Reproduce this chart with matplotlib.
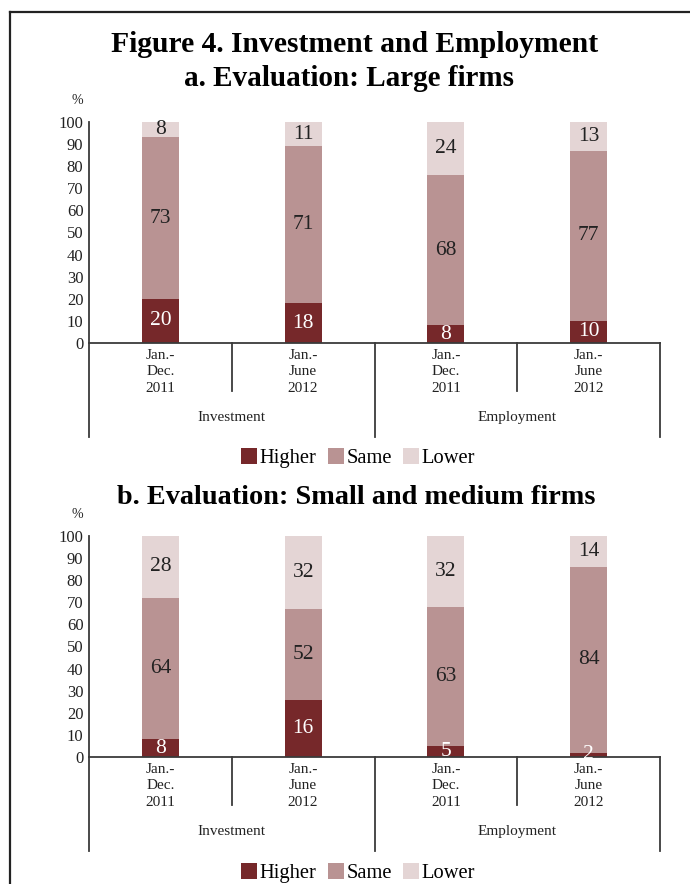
import matplotlib
matplotlib.use('Agg')
import matplotlib.pyplot as plt
import matplotlib.transforms as mtransforms
from matplotlib.patches import Patch
import numpy as np

plt.rcParams['font.family'] = ['Liberation Serif', 'DejaVu Serif']

periods = ['Jan.-\nDec.\n2011', 'Jan.-\nJune\n2012', 'Jan.-\nDec.\n2011', 'Jan.-\nJune\n2012']
groups = ['Investment', 'Employment']
series = ['Higher', 'Same', 'Lower']
colors = ['#76282a', '#b99393', '#e4d5d5']
label_colors = ['white', '#222222', '#222222']

# a. large firms
large_higher = [20, 18, 8, 10]
large_same = [73, 71, 68, 77]
large_lower = [8, 11, 24, 13]

# b. small and medium firms (values printed on the bars)
small_higher = [8, 16, 5, 2]
small_same = [64, 52, 63, 84]
small_lower = [28, 32, 32, 14]
# segment heights as drawn in the original (2nd bar differs from its labels)
small_higher_drawn = [8, 26, 5, 2]
small_same_drawn = [64, 41, 63, 84]
small_lower_drawn = [28, 33, 32, 14]

W, H = 690, 884
fig = plt.figure(figsize=(W / 100, H / 100), dpi=100)

line_col = '#3a3a3a'
txt_col = '#222222'


def panel(bottom_px, drawn, labels):
    left, right, top = 89, 660, bottom_px - 221
    ax = fig.add_axes([left / W, 1 - bottom_px / H, (right - left) / W, 221 / H])
    x = np.arange(len(periods))
    base = np.zeros(len(periods))
    for vals, labs, c, tc in zip(drawn, labels, colors, label_colors):
        ax.bar(x, vals, bottom=base, width=0.26, color=c, edgecolor='none')
        for xi, b, v, lab in zip(x, base, vals, labs):
            yc = (b + min(b + v, 100)) / 2
            ax.text(xi, yc, str(lab), ha='center', va='center',
                    fontsize=15.5, color=tc)
        base = base + np.array(vals)
    ax.set_xlim(-0.5, len(periods) - 0.5)
    ax.set_ylim(0, 100)
    ax.set_yticks(range(0, 101, 10))
    ax.set_xticks([])
    ax.tick_params(axis='y', length=0, labelsize=12, pad=4, colors=txt_col)
    for s in ['top', 'right']:
        ax.spines[s].set_visible(False)
    for s in ['left', 'bottom']:
        ax.spines[s].set_color(line_col)
        ax.spines[s].set_linewidth(1.3)

    tr = mtransforms.blended_transform_factory(ax.transData, ax.transAxes)
    for xi, p in zip(x, periods):
        ax.text(xi, -0.025, p, transform=tr, ha='center', va='top',
                fontsize=11, linespacing=1.38, color=txt_col)
    for xs in [0.5, 2.5]:
        ax.plot([xs, xs], [0, -0.217], transform=tr, color=line_col,
                lw=1.3, clip_on=False)
    for xs in [-0.5, 1.5, 3.5]:
        ax.plot([xs, xs], [0, -0.425], transform=tr, color=line_col,
                lw=1.3, clip_on=False)
    for gi, g in enumerate(groups):
        ax.text(2 * gi + 0.5, -0.339, g, transform=tr, ha='center',
                va='center', fontsize=11, color=txt_col)
    fig.text(77 / W, 1 - (top - 21) / H, '%', ha='center', va='center',
             fontsize=10, color=txt_col)
    return ax


panel(343, [large_higher, large_same, large_lower],
      [large_higher, large_same, large_lower])
panel(757, [small_higher_drawn, small_same_drawn, small_lower_drawn],
      [small_higher, small_same, small_lower])

fig.text(355 / W, 1 - 45 / H, 'Figure 4. Investment and Employment',
         ha='center', va='center', fontsize=21.3, fontweight='bold')
fig.text(349 / W, 1 - 78 / H, 'a. Evaluation: Large firms',
         ha='center', va='center', fontsize=21, fontweight='bold')
fig.text(356 / W, 1 - 497 / H, 'b. Evaluation: Small and medium firms',
         ha='center', va='center', fontsize=20.3, fontweight='bold')

handles = [Patch(facecolor=c, edgecolor='none') for c in colors]
for ly in [458, 873]:
    fig.legend(handles, series, loc='center', bbox_to_anchor=(358 / W, 1 - ly / H),
               ncol=3, frameon=False, fontsize=14.8, handlelength=0.8,
               handleheight=0.8, handletextpad=0.1, columnspacing=0.55,
               borderpad=0, borderaxespad=0)

# page frame
fig.add_artist(plt.Line2D([10 / W, 1], [1 - 12 / H, 1 - 12 / H],
                          transform=fig.transFigure, color=txt_col, lw=1.6))
fig.add_artist(plt.Line2D([10 / W, 10 / W], [1 - 12 / H, 0],
                          transform=fig.transFigure, color=txt_col, lw=1.6))

fig.savefig('out.png', dpi=100)
